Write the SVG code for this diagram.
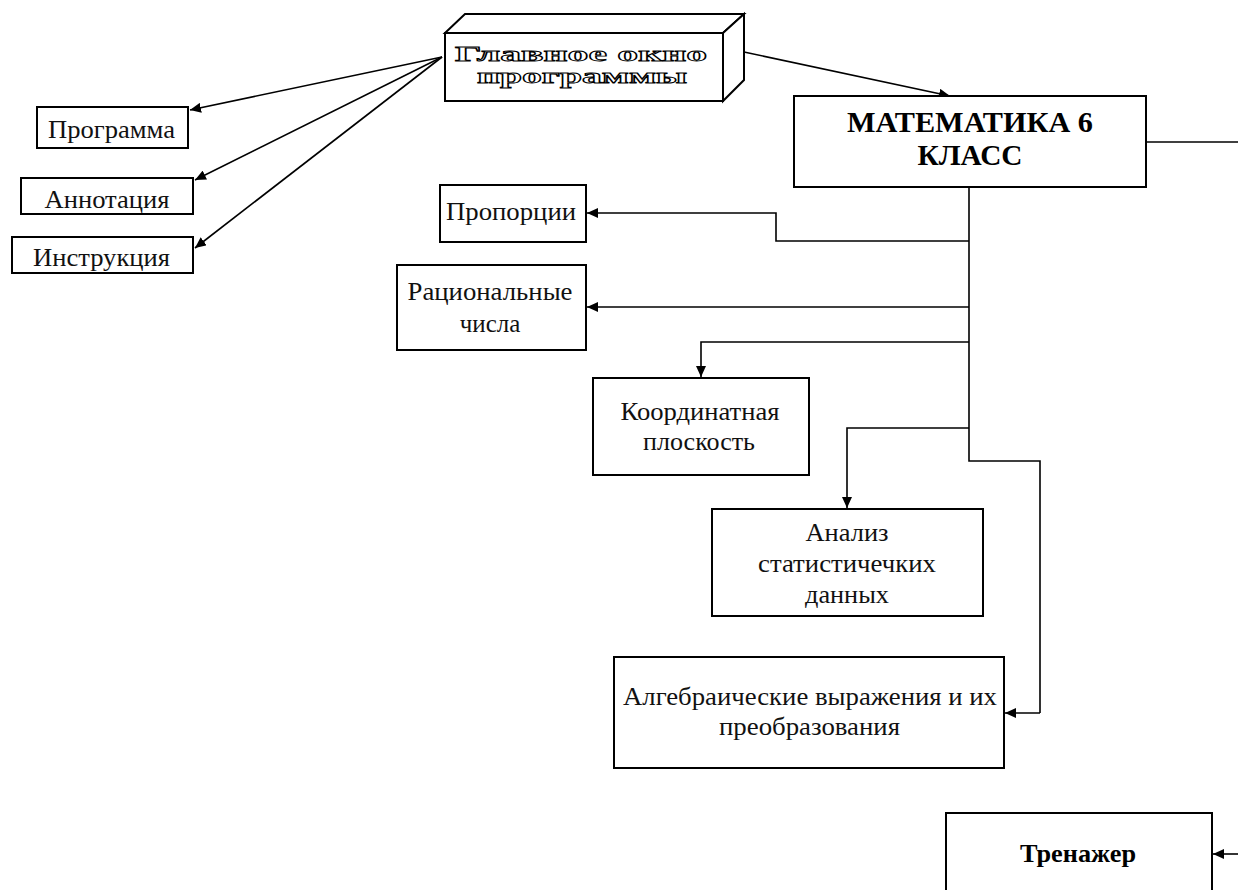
<svg xmlns="http://www.w3.org/2000/svg" width="1238" height="890" viewBox="0 0 1238 890">
<defs>
<marker id="ah" markerUnits="userSpaceOnUse" markerWidth="12" markerHeight="10" refX="11" refY="5" orient="auto">
<path d="M0,0 L11,5 L0,10 z" fill="#000"/>
</marker>
<style>
.box{fill:#fff;stroke:#000;stroke-width:2}
.t{font-family:"Liberation Serif",serif;font-size:25px;fill:#111;text-anchor:middle}
.b{font-family:"Liberation Serif",serif;font-weight:bold;fill:#000;text-anchor:middle}
.o{font-family:"Liberation Serif",serif;font-weight:bold;font-size:21px;fill:#fff;stroke:#000;stroke-width:0.9;text-anchor:middle}
.c{fill:none;stroke:#000;stroke-width:1.6}
.ca{fill:none;stroke:#000;stroke-width:1.6;marker-end:url(#ah)}
</style>
</defs>
<rect width="1238" height="890" fill="#fff"/>

<g id="connectors">
<path class="ca" d="M442,57 L190,110"/>
<path class="ca" d="M442,57 L195,180"/>
<path class="ca" d="M442,57 L195,248"/>
<path class="ca" d="M744,52 L950,96"/>
<path class="c" d="M969,187 V461 H1040 V713"/>
<path class="ca" d="M1040,713 H1005"/>
<path class="ca" d="M969,241 H776 V213 H587"/>
<path class="ca" d="M969,307 H587"/>
<path class="ca" d="M969,342 H701 V377"/>
<path class="ca" d="M969,428 H847 V508"/>
<path class="c" d="M1146,142 H1238"/>
<path class="ca" d="M1238,854 H1213"/>
</g>

<g id="main-window">
<path class="box" d="M445,33 L465,14 L744,14 L723,33 Z"/>
<path class="box" d="M723,33 L744,14 L744,80 L723,101 Z"/>
<rect class="box" x="445" y="33" width="278" height="68"/>
<text class="o" x="581" y="61" textLength="252" lengthAdjust="spacingAndGlyphs">Главное окно</text>
<text class="o" x="582" y="83" textLength="210" lengthAdjust="spacingAndGlyphs">программы</text>
</g>

<g id="programma">
<rect class="box" x="37" y="107" width="151" height="41"/>
<text class="t" x="111.5" y="138" textLength="127" lengthAdjust="spacingAndGlyphs">Программа</text>
</g>

<g id="annotaciya">
<rect class="box" x="21" y="178" width="172" height="36"/>
<text class="t" x="107" y="208" textLength="125" lengthAdjust="spacingAndGlyphs">Аннотация</text>
</g>

<g id="instrukciya">
<rect class="box" x="12" y="237" width="181" height="36"/>
<text class="t" x="101.5" y="266" textLength="137" lengthAdjust="spacingAndGlyphs">Инструкция</text>
</g>

<g id="matematika">
<rect class="box" x="794" y="96" width="352" height="91"/>
<text class="b" x="970" y="132" font-size="29" textLength="246" lengthAdjust="spacingAndGlyphs">МАТЕМАТИКА 6</text>
<text class="b" x="970" y="165" font-size="29" textLength="105" lengthAdjust="spacingAndGlyphs">КЛАСС</text>
</g>

<g id="proporcii">
<rect class="box" x="440" y="185" width="146" height="57"/>
<text class="t" x="511" y="220" textLength="130" lengthAdjust="spacingAndGlyphs">Пропорции</text>
</g>

<g id="racionalnye">
<rect class="box" x="397" y="265" width="189" height="85"/>
<text class="t" x="490" y="300" textLength="165" lengthAdjust="spacingAndGlyphs">Рациональные</text>
<text class="t" x="490" y="332">числа</text>
</g>

<g id="koordinatnaya">
<rect class="box" x="593" y="378" width="216" height="97"/>
<text class="t" x="700" y="420" textLength="159" lengthAdjust="spacingAndGlyphs">Координатная</text>
<text class="t" x="699" y="450" textLength="112" lengthAdjust="spacingAndGlyphs">плоскость</text>
</g>

<g id="analiz">
<rect class="box" x="712" y="509" width="271" height="107"/>
<text class="t" x="847" y="541" textLength="83" lengthAdjust="spacingAndGlyphs">Анализ</text>
<text class="t" x="847" y="572" textLength="178" lengthAdjust="spacingAndGlyphs">статистичечких</text>
<text class="t" x="847" y="603" textLength="84" lengthAdjust="spacingAndGlyphs">данных</text>
</g>

<g id="algebra">
<rect class="box" x="614" y="657" width="390" height="111"/>
<text class="t" x="810" y="705" textLength="374" lengthAdjust="spacingAndGlyphs">Алгебраические выражения и их</text>
<text class="t" x="809.5" y="735" textLength="181" lengthAdjust="spacingAndGlyphs">преобразования</text>
</g>

<g id="trenazher">
<rect class="box" x="946" y="813" width="266" height="90"/>
<text class="b" x="1078" y="862" font-size="25" textLength="116" lengthAdjust="spacingAndGlyphs">Тренажер</text>
</g>
</svg>
